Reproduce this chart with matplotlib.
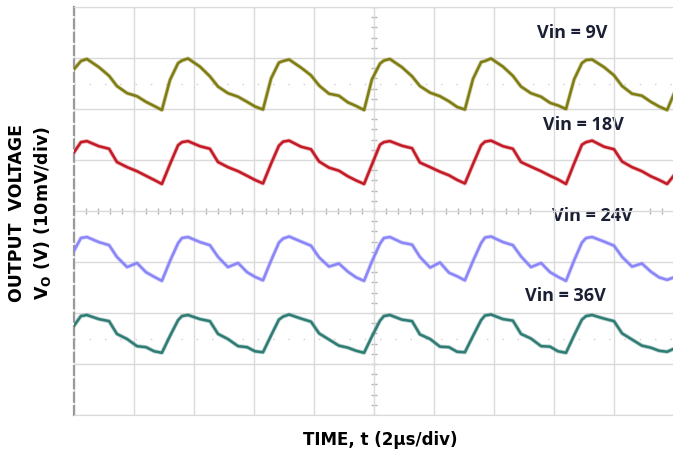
import numpy as np
import matplotlib
matplotlib.use("Agg")
from matplotlib import pyplot as plt

# time axis in microseconds (2 us/div, 10 div)
t_us = [0.00, 0.23, 0.43, 0.83, 1.17, 1.43, 1.77, 2.10, 2.40, 2.67,
        2.93, 3.20, 3.47, 3.60, 3.80, 4.20, 4.53, 4.80, 5.13, 5.47, 5.77, 6.03,
        6.30, 6.57, 6.83, 6.97, 7.17, 7.57, 7.90, 8.17, 8.50, 8.83, 9.13, 9.40,
        9.67, 9.93, 10.20, 10.33, 10.53, 10.93, 11.27, 11.53, 11.87, 12.20, 12.50, 12.77,
        13.03, 13.30, 13.57, 13.70, 13.90, 14.30, 14.63, 14.90, 15.23, 15.57, 15.87, 16.13,
        16.40, 16.67, 16.93, 17.07, 17.27, 17.67, 18.00, 18.27, 18.60, 18.93, 19.23, 19.50,
        19.77, 20.00]

# traces in screen divisions (10 mV/div), each channel with its own offset
vin_9v = [2.78, 2.94, 2.98, 2.82, 2.65, 2.45, 2.31, 2.25, 2.14, 2.06,
          1.98, 2.57, 2.90, 2.95, 2.99, 2.83, 2.64, 2.44, 2.31, 2.24, 2.14, 2.05,
          1.99, 2.60, 2.91, 2.94, 2.97, 2.81, 2.66, 2.46, 2.30, 2.26, 2.13, 2.06,
          1.98, 2.58, 2.89, 2.95, 2.98, 2.82, 2.64, 2.45, 2.32, 2.25, 2.15, 2.04,
          1.99, 2.59, 2.92, 2.94, 2.99, 2.83, 2.65, 2.44, 2.31, 2.24, 2.12, 2.07,
          2.00, 2.58, 2.90, 2.96, 2.97, 2.82, 2.66, 2.45, 2.30, 2.26, 2.14, 2.05,
          1.98, 2.30]
vin_18v = [1.15, 1.35, 1.37, 1.27, 1.22, 0.96, 0.86, 0.78, 0.69, 0.61,
           0.53, 0.92, 1.29, 1.35, 1.37, 1.27, 1.22, 0.96, 0.86, 0.78, 0.69, 0.61,
           0.54, 0.93, 1.28, 1.36, 1.38, 1.26, 1.21, 0.97, 0.85, 0.79, 0.68, 0.60,
           0.53, 0.91, 1.30, 1.35, 1.37, 1.28, 1.23, 0.95, 0.86, 0.77, 0.70, 0.61,
           0.54, 0.92, 1.29, 1.36, 1.38, 1.27, 1.22, 0.96, 0.87, 0.78, 0.69, 0.62,
           0.53, 0.93, 1.30, 1.35, 1.38, 1.26, 1.21, 0.97, 0.86, 0.78, 0.68, 0.61,
           0.53, 0.70]
vin_24v = [-0.78, -0.53, -0.51, -0.61, -0.67, -0.90, -1.10, -1.02, -1.20, -1.29,
           -1.37, -0.98, -0.63, -0.53, -0.51, -0.61, -0.67, -0.90, -1.10, -1.02, -1.20, -1.29,
           -1.36, -0.97, -0.62, -0.54, -0.50, -0.60, -0.68, -0.91, -1.09, -1.03, -1.19, -1.30,
           -1.37, -0.99, -0.64, -0.53, -0.51, -0.62, -0.66, -0.90, -1.11, -1.01, -1.21, -1.28,
           -1.36, -0.98, -0.63, -0.52, -0.50, -0.61, -0.67, -0.89, -1.10, -1.02, -1.20, -1.29,
           -1.37, -0.97, -0.62, -0.53, -0.51, -0.60, -0.68, -0.90, -1.09, -1.03, -1.19, -1.30,
           -1.35, -1.30]
vin_36v = [-2.25, -2.06, -2.04, -2.12, -2.16, -2.41, -2.51, -2.65, -2.67, -2.75,
           -2.78, -2.45, -2.14, -2.06, -2.04, -2.12, -2.16, -2.41, -2.51, -2.65, -2.67, -2.75,
           -2.77, -2.44, -2.13, -2.07, -2.03, -2.11, -2.17, -2.40, -2.52, -2.64, -2.68, -2.74,
           -2.78, -2.46, -2.15, -2.06, -2.04, -2.13, -2.16, -2.42, -2.51, -2.66, -2.67, -2.76,
           -2.77, -2.45, -2.14, -2.05, -2.03, -2.12, -2.15, -2.41, -2.50, -2.65, -2.66, -2.75,
           -2.78, -2.44, -2.13, -2.06, -2.04, -2.11, -2.16, -2.40, -2.52, -2.64, -2.68, -2.74,
           -2.76, -2.70]

traces = [vin_9v, vin_18v, vin_24v, vin_36v]
trace_colors = ["#7f7c12", "#c41a25", "#8a86f8", "#2f7c74"]
labels = ["Vin = 9V", "Vin = 18V", "Vin = 24V", "Vin = 36V"]
label_pos = [(16.6, 3.51), (16.97, 1.71), (17.27, -0.08), (16.37, -1.65)]

fig = plt.figure(figsize=(6.73, 4.52), dpi=100)
ax = fig.add_axes([74 / 673, 1 - 416 / 452, 600 / 673, 408 / 452])
ax.set_xlim(0, 20)
ax.set_ylim(-4, 4)

# scope graticule
grid_c = "#dadada"
ax.set_xticks(np.arange(0, 21, 2))
ax.set_yticks(np.arange(-4, 5, 1))
ax.grid(True, color=grid_c, lw=1.0, zorder=0)
ax.tick_params(length=0, labelbottom=False, labelleft=False)
for side in ["top", "bottom", "right"]:
    ax.spines[side].set_color(grid_c)
ax.spines["left"].set_color("#9a9a9a")
ax.spines["left"].set_linestyle((0, (4, 2)))
ax.spines["left"].set_linewidth(1.6)

# minor ticks on the centre lines
ax.plot(np.full(41, 10.0), np.linspace(-4, 4, 41), ls="none", marker="_",
        ms=5, color="#b5b5b5", mew=1, zorder=0.5)
ax.plot(np.linspace(0, 20, 51), np.zeros(51), ls="none", marker="|",
        ms=5, color="#b5b5b5", mew=1, zorder=0.5)
for ref in (2.49, -2.51):
    ax.axhline(ref, color="#cfcfcf", lw=1, ls=(0, (1, 10)), zorder=0.5)

for lab, (x, y) in zip(labels, label_pos):
    ax.text(x, y, lab, ha="center", va="center", fontsize=13,
            family=["Open Sans", "DejaVu Sans"], fontweight="bold",
            color="#1a1f33", zorder=1.5,
            bbox=dict(boxstyle="square,pad=0.6", fc="white", ec="none"))

for vals, c in zip(traces, trace_colors):
    ax.plot(t_us, vals, color=c, lw=3.0, alpha=0.35, zorder=2.5,
            solid_joinstyle="round")
    ax.plot(t_us, vals, color=c, lw=1.8, zorder=3, solid_joinstyle="round")

fig.text(17 / 673, 1 - 213 / 452, "OUTPUT  VOLTAGE", rotation=90,
         ha="center", va="center", fontsize=12.5, fontweight="bold")
fig.text(43 / 673, 1 - 213 / 452, r"V$_{\mathbf{O}}$ (V) (10mV/div)",
         rotation=90, ha="center", va="center", fontsize=12.5, fontweight="bold")
fig.text(380 / 673, 1 - 440 / 452, "TIME, t (2µs/div)", ha="center",
         va="center", fontsize=12, fontweight="bold")

fig.savefig("out.png", dpi=100)
